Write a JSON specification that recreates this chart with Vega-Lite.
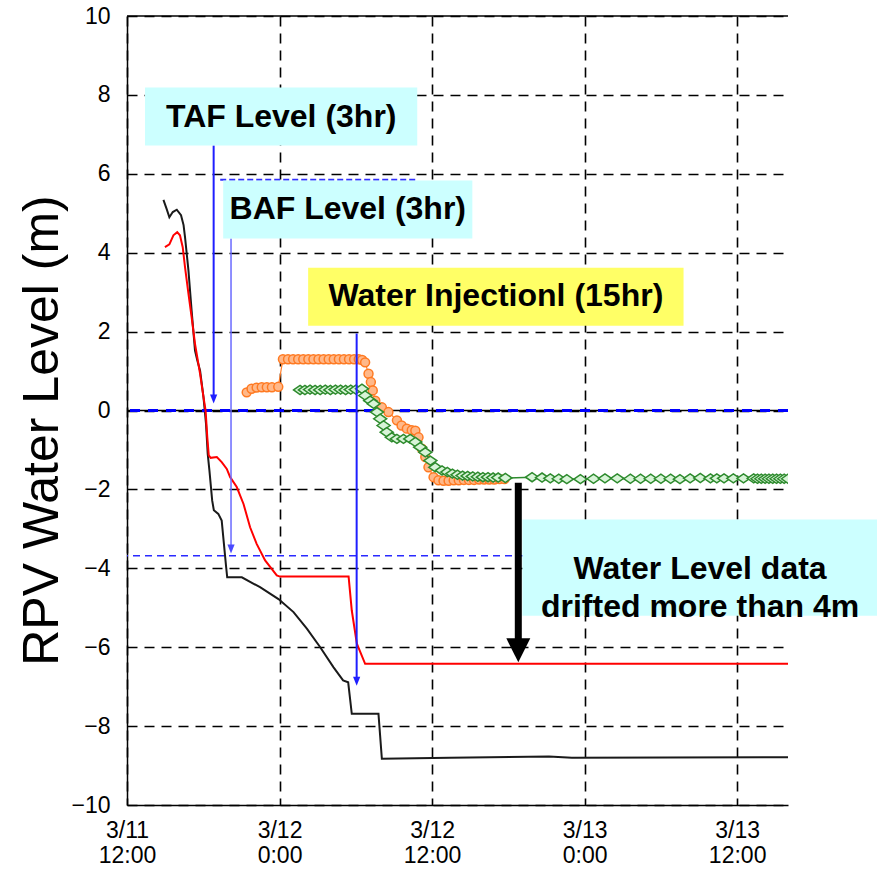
{
  "$schema": "https://vega.github.io/schema/vega-lite/v6.json",
  "width": 661,
  "height": 789,
  "autosize": {"type": "none"},
  "padding": {"left": 127, "top": 16, "right": 89, "bottom": 64},
  "background": "#ffffff",
  "config": {"view": {"stroke": null}, "font": "Liberation Sans"},
  "datasets": {
    "black": [
      {"t": "2011-03-11T14:52", "v": 5.34}, {"t": "2011-03-11T15:07", "v": 5.11}, {"t": "2011-03-11T15:20", "v": 4.9},
      {"t": "2011-03-11T15:36", "v": 5.03}, {"t": "2011-03-11T15:55", "v": 5.09}, {"t": "2011-03-11T16:15", "v": 4.95},
      {"t": "2011-03-11T16:27", "v": 4.7}, {"t": "2011-03-11T16:34", "v": 4.39}, {"t": "2011-03-11T16:50", "v": 3.55},
      {"t": "2011-03-11T17:05", "v": 2.53}, {"t": "2011-03-11T17:21", "v": 1.52}, {"t": "2011-03-11T17:32", "v": 1.27},
      {"t": "2011-03-11T17:45", "v": 1.01}, {"t": "2011-03-11T18:01", "v": 0.34}, {"t": "2011-03-11T18:13", "v": -0.34},
      {"t": "2011-03-11T18:21", "v": -1.1}, {"t": "2011-03-11T18:29", "v": -1.52}, {"t": "2011-03-11T18:42", "v": -2.28},
      {"t": "2011-03-11T18:50", "v": -2.53}, {"t": "2011-03-11T19:11", "v": -2.62}, {"t": "2011-03-11T19:27", "v": -2.79},
      {"t": "2011-03-11T19:36", "v": -3.3}, {"t": "2011-03-11T19:48", "v": -3.97}, {"t": "2011-03-11T19:53", "v": -4.23},
      {"t": "2011-03-11T21:02", "v": -4.23}, {"t": "2011-03-11T22:28", "v": -4.48}, {"t": "2011-03-11T23:55", "v": -4.78},
      {"t": "2011-03-12T01:06", "v": -5.11}, {"t": "2011-03-12T02:09", "v": -5.53}, {"t": "2011-03-12T03:12", "v": -6.0},
      {"t": "2011-03-12T04:15", "v": -6.51}, {"t": "2011-03-12T05:00", "v": -6.84}, {"t": "2011-03-12T05:24", "v": -6.89},
      {"t": "2011-03-12T05:41", "v": -7.69}, {"t": "2011-03-12T07:47", "v": -7.69}, {"t": "2011-03-12T08:03", "v": -8.83},
      {"t": "2011-03-12T13:24", "v": -8.8}, {"t": "2011-03-12T21:12", "v": -8.77}, {"t": "2011-03-12T23:00", "v": -8.8},
      {"t": "2011-03-13T16:00", "v": -8.79}
    ],
    "red": [
      {"t": "2011-03-11T14:59", "v": 4.14}, {"t": "2011-03-11T15:20", "v": 4.21}, {"t": "2011-03-11T15:39", "v": 4.44},
      {"t": "2011-03-11T15:57", "v": 4.52}, {"t": "2011-03-11T16:10", "v": 4.44}, {"t": "2011-03-11T16:23", "v": 4.14},
      {"t": "2011-03-11T16:34", "v": 3.63}, {"t": "2011-03-11T16:50", "v": 2.96}, {"t": "2011-03-11T17:05", "v": 2.37},
      {"t": "2011-03-11T17:21", "v": 1.69}, {"t": "2011-03-11T17:45", "v": 0.93}, {"t": "2011-03-11T18:01", "v": 0.34},
      {"t": "2011-03-11T18:11", "v": 0.0}, {"t": "2011-03-11T18:19", "v": -0.68}, {"t": "2011-03-11T18:26", "v": -1.14},
      {"t": "2011-03-11T18:35", "v": -1.2}, {"t": "2011-03-11T19:04", "v": -1.18}, {"t": "2011-03-11T19:27", "v": -1.31},
      {"t": "2011-03-11T19:51", "v": -1.48}, {"t": "2011-03-11T20:07", "v": -1.69}, {"t": "2011-03-11T20:38", "v": -1.94},
      {"t": "2011-03-11T21:10", "v": -2.37}, {"t": "2011-03-11T21:41", "v": -2.96}, {"t": "2011-03-11T22:12", "v": -3.38},
      {"t": "2011-03-11T22:52", "v": -3.8}, {"t": "2011-03-11T23:47", "v": -4.18}, {"t": "2011-03-12T00:02", "v": -4.21},
      {"t": "2011-03-12T05:26", "v": -4.21}, {"t": "2011-03-12T05:41", "v": -5.07}, {"t": "2011-03-12T06:05", "v": -5.91},
      {"t": "2011-03-12T06:44", "v": -6.42}, {"t": "2011-03-13T16:00", "v": -6.42}
    ],
    "orange": [
      {"t": "2011-03-11T21:25", "v": 0.46}, {"t": "2011-03-11T21:48", "v": 0.55}, {"t": "2011-03-11T22:12", "v": 0.58},
      {"t": "2011-03-11T22:36", "v": 0.59}, {"t": "2011-03-11T23:00", "v": 0.59}, {"t": "2011-03-11T23:24", "v": 0.59},
      {"t": "2011-03-11T23:54", "v": 0.6}, {"t": "2011-03-12T00:16", "v": 1.3}, {"t": "2011-03-12T00:40", "v": 1.3},
      {"t": "2011-03-12T01:04", "v": 1.3}, {"t": "2011-03-12T01:28", "v": 1.3}, {"t": "2011-03-12T01:52", "v": 1.3},
      {"t": "2011-03-12T02:16", "v": 1.3}, {"t": "2011-03-12T02:40", "v": 1.3}, {"t": "2011-03-12T03:04", "v": 1.3},
      {"t": "2011-03-12T03:28", "v": 1.3}, {"t": "2011-03-12T03:52", "v": 1.3}, {"t": "2011-03-12T04:16", "v": 1.3},
      {"t": "2011-03-12T04:40", "v": 1.3}, {"t": "2011-03-12T05:04", "v": 1.3}, {"t": "2011-03-12T05:28", "v": 1.3},
      {"t": "2011-03-12T05:52", "v": 1.3}, {"t": "2011-03-12T06:14", "v": 1.3}, {"t": "2011-03-12T06:30", "v": 1.28},
      {"t": "2011-03-12T06:44", "v": 1.22}, {"t": "2011-03-12T07:00", "v": 0.93}, {"t": "2011-03-12T07:11", "v": 0.72},
      {"t": "2011-03-12T07:20", "v": 0.51}, {"t": "2011-03-12T07:32", "v": 0.25}, {"t": "2011-03-12T08:03", "v": 0.08},
      {"t": "2011-03-12T08:34", "v": -0.04}, {"t": "2011-03-12T09:14", "v": -0.25}, {"t": "2011-03-12T09:36", "v": -0.38},
      {"t": "2011-03-12T10:01", "v": -0.46}, {"t": "2011-03-12T10:24", "v": -0.5}, {"t": "2011-03-12T10:41", "v": -0.51},
      {"t": "2011-03-12T10:56", "v": -0.68}, {"t": "2011-03-12T11:12", "v": -0.97}, {"t": "2011-03-12T11:28", "v": -1.18},
      {"t": "2011-03-12T11:43", "v": -1.44}, {"t": "2011-03-12T12:07", "v": -1.69}, {"t": "2011-03-12T12:30", "v": -1.77},
      {"t": "2011-03-12T12:54", "v": -1.78}, {"t": "2011-03-12T13:18", "v": -1.78}, {"t": "2011-03-12T13:42", "v": -1.77},
      {"t": "2011-03-12T14:06", "v": -1.77}, {"t": "2011-03-12T14:30", "v": -1.76}, {"t": "2011-03-12T14:54", "v": -1.76},
      {"t": "2011-03-12T15:18", "v": -1.76}, {"t": "2011-03-12T15:42", "v": -1.75}, {"t": "2011-03-12T16:06", "v": -1.75},
      {"t": "2011-03-12T16:30", "v": -1.75}, {"t": "2011-03-12T16:54", "v": -1.75}, {"t": "2011-03-12T17:18", "v": -1.74},
      {"t": "2011-03-12T17:42", "v": -1.74}
    ],
    "green": [
      {"t": "2011-03-12T01:37", "v": 0.52}, {"t": "2011-03-12T02:00", "v": 0.52}, {"t": "2011-03-12T02:24", "v": 0.53},
      {"t": "2011-03-12T02:48", "v": 0.52}, {"t": "2011-03-12T03:12", "v": 0.52}, {"t": "2011-03-12T03:36", "v": 0.53},
      {"t": "2011-03-12T04:00", "v": 0.52}, {"t": "2011-03-12T04:24", "v": 0.53}, {"t": "2011-03-12T04:48", "v": 0.53},
      {"t": "2011-03-12T05:12", "v": 0.52}, {"t": "2011-03-12T05:36", "v": 0.53}, {"t": "2011-03-12T06:00", "v": 0.53},
      {"t": "2011-03-12T06:29", "v": 0.55}, {"t": "2011-03-12T06:44", "v": 0.38}, {"t": "2011-03-12T07:08", "v": 0.25},
      {"t": "2011-03-12T07:24", "v": 0.17}, {"t": "2011-03-12T07:40", "v": -0.04}, {"t": "2011-03-12T07:55", "v": -0.21},
      {"t": "2011-03-12T08:11", "v": -0.38}, {"t": "2011-03-12T08:26", "v": -0.55}, {"t": "2011-03-12T08:50", "v": -0.68},
      {"t": "2011-03-12T09:14", "v": -0.72}, {"t": "2011-03-12T09:45", "v": -0.72}, {"t": "2011-03-12T10:17", "v": -0.72},
      {"t": "2011-03-12T10:41", "v": -0.8}, {"t": "2011-03-12T11:04", "v": -0.93}, {"t": "2011-03-12T11:28", "v": -1.06},
      {"t": "2011-03-12T11:52", "v": -1.27}, {"t": "2011-03-12T12:15", "v": -1.44}, {"t": "2011-03-12T12:47", "v": -1.52},
      {"t": "2011-03-12T13:12", "v": -1.56}, {"t": "2011-03-12T13:36", "v": -1.6}, {"t": "2011-03-12T14:00", "v": -1.63},
      {"t": "2011-03-12T14:24", "v": -1.65}, {"t": "2011-03-12T14:48", "v": -1.66}, {"t": "2011-03-12T15:12", "v": -1.67},
      {"t": "2011-03-12T15:36", "v": -1.68}, {"t": "2011-03-12T16:00", "v": -1.69}, {"t": "2011-03-12T16:24", "v": -1.69},
      {"t": "2011-03-12T16:48", "v": -1.7}, {"t": "2011-03-12T17:12", "v": -1.7}, {"t": "2011-03-12T17:46", "v": -1.71},
      {"t": "2011-03-12T19:52", "v": -1.69}, {"t": "2011-03-12T20:39", "v": -1.7}, {"t": "2011-03-12T21:18", "v": -1.72},
      {"t": "2011-03-12T21:58", "v": -1.73}, {"t": "2011-03-12T22:36", "v": -1.74}, {"t": "2011-03-12T23:40", "v": -1.74},
      {"t": "2011-03-13T00:42", "v": -1.73}, {"t": "2011-03-13T01:36", "v": -1.72}, {"t": "2011-03-13T02:34", "v": -1.72},
      {"t": "2011-03-13T03:36", "v": -1.73}, {"t": "2011-03-13T04:24", "v": -1.73}, {"t": "2011-03-13T05:12", "v": -1.73},
      {"t": "2011-03-13T06:00", "v": -1.73}, {"t": "2011-03-13T06:46", "v": -1.73}, {"t": "2011-03-13T07:30", "v": -1.74},
      {"t": "2011-03-13T08:18", "v": -1.72}, {"t": "2011-03-13T09:06", "v": -1.71}, {"t": "2011-03-13T09:54", "v": -1.72},
      {"t": "2011-03-13T10:24", "v": -1.72}, {"t": "2011-03-13T10:58", "v": -1.72}, {"t": "2011-03-13T11:42", "v": -1.72},
      {"t": "2011-03-13T12:30", "v": -1.72}, {"t": "2011-03-13T13:18", "v": -1.72}, {"t": "2011-03-13T13:36", "v": -1.73},
      {"t": "2011-03-13T13:54", "v": -1.73}, {"t": "2011-03-13T14:12", "v": -1.73}, {"t": "2011-03-13T14:30", "v": -1.73},
      {"t": "2011-03-13T14:48", "v": -1.73}, {"t": "2011-03-13T15:06", "v": -1.73}, {"t": "2011-03-13T15:24", "v": -1.73},
      {"t": "2011-03-13T15:42", "v": -1.73}, {"t": "2011-03-13T16:00", "v": -1.73}
    ],
    "boxes": [
      {"kind": "cyan", "t": "2011-03-11T13:25", "t2": "2011-03-12T10:50", "v": 8.19, "v2": 6.72},
      {"kind": "cyan", "t": "2011-03-11T19:34", "t2": "2011-03-12T15:10", "v": 5.83, "v2": 4.36},
      {"kind": "yellow", "t": "2011-03-12T02:15", "t2": "2011-03-13T07:47", "v": 3.62, "v2": 2.15},
      {"kind": "cyan", "t": "2011-03-12T19:06", "t2": "2011-03-13T23:04", "v": -2.76, "v2": -5.2}
    ],
    "labels": [
      {"label": "TAF Level (3hr)", "t": "2011-03-12T00:08", "v": 7.45},
      {"label": "BAF Level (3hr)", "t": "2011-03-12T05:22", "v": 5.1},
      {"label": "Water Injectionl (15hr)", "t": "2011-03-12T17:01", "v": 2.89},
      {"label": "Water Level data\ndrifted more than 4m", "t": "2011-03-13T09:05", "v": -4.03}
    ],
    "arrows": [
      {"kind": "TAF", "t": "2011-03-11T18:49", "v": 6.72, "v2": 0.29},
      {"kind": "BAF", "t": "2011-03-11T20:11", "v": 4.36, "v2": -3.51},
      {"kind": "WI", "t": "2011-03-12T06:04", "v": 1.95, "v2": -6.86}
    ],
    "drift": [
      {"t": "2011-03-12T18:47", "v": -1.83, "v2": -5.9, "vh": -6.08}
    ],
    "dashed": [
      {"t": "2011-03-11T19:20", "t2": "2011-03-12T10:42", "v": 5.85}
    ],
    "levels": [
      {"name": "top", "v": 10},
      {"name": "zero", "v": 0},
      {"name": "ref", "v": -3.68}
    ]
  },
  "layer": [
    {
      "data": {"name": "black"},
      "mark": {"type": "line", "color": "#1a1a1a", "strokeWidth": 2},
      "encoding": {
        "x": {
          "field": "t", "type": "temporal",
          "scale": {"domain": [{"year": 2011, "month": 3, "date": 11, "hours": 12}, {"year": 2011, "month": 3, "date": 13, "hours": 16}], "nice": false},
          "axis": {
            "title": null,
            "values": [
              {"year": 2011, "month": 3, "date": 11, "hours": 12},
              {"year": 2011, "month": 3, "date": 12, "hours": 0},
              {"year": 2011, "month": 3, "date": 12, "hours": 12},
              {"year": 2011, "month": 3, "date": 13, "hours": 0},
              {"year": 2011, "month": 3, "date": 13, "hours": 12}
            ],
            "labelExpr": "[timeFormat(datum.value, '%-m/%-d'), timeFormat(datum.value, '%-H:%M')]",
            "labelFontSize": 23, "labelColor": "#000", "labelPadding": 14, "labelLineHeight": 25,
            "labelBaseline": "top", "labelFlush": false, "labelOverlap": false,
            "ticks": false, "tickSize": 0,
            "domainColor": "#000", "domainWidth": 1.5,
            "grid": true, "gridColor": "#000", "gridDash": [10, 7], "gridWidth": 1.6
          }
        },
        "y": {
          "field": "v", "type": "quantitative",
          "scale": {"domain": [-10, 10], "nice": false, "zero": false},
          "axis": {
            "title": "RPV Water Level (m)",
            "titleFontSize": 50, "titleFontWeight": "normal", "titleColor": "#000",
            "titleX": -70, "titleY": 414, "titleBaseline": "alphabetic", "titleAlign": "center", "titleAngle": 270,
            "values": [-10, -8, -6, -4, -2, 0, 2, 4, 6, 8, 10],
            "format": "d",
            "labelFontSize": 23, "labelColor": "#000", "labelPadding": 17, "labelFlush": false, "labelOverlap": false,
            "ticks": false, "tickSize": 0,
            "domainColor": "#000", "domainWidth": 1.5,
            "grid": true, "gridColor": "#000", "gridDash": [10, 7], "gridWidth": 1.6
          }
        }
      }
    },
    {
      "data": {"name": "levels"},
      "transform": [{"filter": "datum.name != 'ref'"}],
      "mark": {"type": "rule", "color": "#000", "strokeWidth": 1.5},
      "encoding": {"y": {"field": "v", "type": "quantitative"}}
    },
    {
      "data": {"name": "levels"},
      "transform": [{"filter": "datum.name == 'zero'"}],
      "mark": {"type": "rule", "color": "#0000ff", "strokeWidth": 3, "strokeDash": [10, 8]},
      "encoding": {"y": {"field": "v", "type": "quantitative"}}
    },
    {
      "data": {"name": "levels"},
      "transform": [{"filter": "datum.name == 'ref'"}],
      "mark": {"type": "rule", "color": "#2a2aff", "strokeWidth": 1.5, "strokeDash": [7, 5]},
      "encoding": {"y": {"field": "v", "type": "quantitative"}}
    },
    {
      "data": {"name": "dashed"},
      "mark": {"type": "rule", "color": "#3030ff", "strokeWidth": 2, "strokeDash": [6, 3]},
      "encoding": {
        "x": {"field": "t", "type": "temporal"},
        "x2": {"field": "t2"},
        "y": {"field": "v", "type": "quantitative"}
      }
    },
    {
      "data": {"name": "red"},
      "mark": {"type": "line", "color": "#ff0000", "strokeWidth": 2},
      "encoding": {
        "x": {"field": "t", "type": "temporal"},
        "y": {"field": "v", "type": "quantitative"}
      }
    },
    {
      "data": {"name": "orange"},
      "mark": {"type": "line", "color": "#ff7f2a", "strokeWidth": 1.2},
      "encoding": {
        "x": {"field": "t", "type": "temporal"},
        "y": {"field": "v", "type": "quantitative"}
      }
    },
    {
      "data": {"name": "orange"},
      "mark": {"type": "point", "shape": "circle", "size": 80, "filled": true, "fill": "#ffb889", "stroke": "#ff7a22", "strokeWidth": 1.5, "opacity": 1},
      "encoding": {
        "x": {"field": "t", "type": "temporal"},
        "y": {"field": "v", "type": "quantitative"}
      }
    },
    {
      "data": {"name": "green"},
      "mark": {"type": "line", "color": "#2e8b2e", "strokeWidth": 1.5, "clip": true},
      "encoding": {
        "x": {"field": "t", "type": "temporal"},
        "y": {"field": "v", "type": "quantitative"}
      }
    },
    {
      "data": {"name": "green"},
      "mark": {"type": "point", "shape": "M-1,0L0,-0.7L1,0L0,0.7Z", "size": 169, "filled": true, "fill": "#d8f4d8", "stroke": "#2e8b2e", "strokeWidth": 1.5, "opacity": 1, "clip": true},
      "encoding": {
        "x": {"field": "t", "type": "temporal"},
        "y": {"field": "v", "type": "quantitative"}
      }
    },
    {
      "data": {"name": "arrows"},
      "transform": [{"filter": "datum.kind != 'BAF'"}],
      "mark": {"type": "rule", "color": "#1f1fff", "strokeWidth": 2},
      "encoding": {
        "x": {"field": "t", "type": "temporal"},
        "y": {"field": "v", "type": "quantitative"},
        "y2": {"field": "v2"}
      }
    },
    {
      "data": {"name": "arrows"},
      "transform": [{"filter": "datum.kind != 'BAF'"}],
      "mark": {"type": "point", "shape": "M-0.8,-1L0.8,-1L0,1Z", "size": 81, "filled": true, "color": "#1f1fff", "opacity": 1},
      "encoding": {
        "x": {"field": "t", "type": "temporal"},
        "y": {"field": "v2", "type": "quantitative"}
      }
    },
    {
      "data": {"name": "arrows"},
      "transform": [{"filter": "datum.kind == 'BAF'"}],
      "mark": {"type": "rule", "color": "#6a6aff", "strokeWidth": 1.5},
      "encoding": {
        "x": {"field": "t", "type": "temporal"},
        "y": {"field": "v", "type": "quantitative"},
        "y2": {"field": "v2"}
      }
    },
    {
      "data": {"name": "arrows"},
      "transform": [{"filter": "datum.kind == 'BAF'"}],
      "mark": {"type": "point", "shape": "M-0.8,-1L0.8,-1L0,1Z", "size": 81, "filled": true, "color": "#4a4aff", "opacity": 1},
      "encoding": {
        "x": {"field": "t", "type": "temporal"},
        "y": {"field": "v2", "type": "quantitative"}
      }
    },
    {
      "data": {"name": "drift"},
      "mark": {"type": "rule", "color": "#000", "strokeWidth": 7},
      "encoding": {
        "x": {"field": "t", "type": "temporal"},
        "y": {"field": "v", "type": "quantitative"},
        "y2": {"field": "v2"}
      }
    },
    {
      "data": {"name": "drift"},
      "mark": {"type": "point", "shape": "M-1,-1L1,-1L0,1Z", "size": 576, "filled": true, "color": "#000", "opacity": 1},
      "encoding": {
        "x": {"field": "t", "type": "temporal"},
        "y": {"field": "vh", "type": "quantitative"}
      }
    },
    {
      "data": {"name": "boxes"},
      "transform": [{"filter": "datum.kind == 'cyan'"}],
      "mark": {"type": "rect", "fill": "#ccffff"},
      "encoding": {
        "x": {"field": "t", "type": "temporal"},
        "x2": {"field": "t2"},
        "y": {"field": "v", "type": "quantitative"},
        "y2": {"field": "v2"}
      }
    },
    {
      "data": {"name": "boxes"},
      "transform": [{"filter": "datum.kind == 'yellow'"}],
      "mark": {"type": "rect", "fill": "#ffff66"},
      "encoding": {
        "x": {"field": "t", "type": "temporal"},
        "x2": {"field": "t2"},
        "y": {"field": "v", "type": "quantitative"},
        "y2": {"field": "v2"}
      }
    },
    {
      "data": {"name": "labels"},
      "mark": {"type": "text", "fontSize": 32, "fontWeight": "bold", "font": "Liberation Sans", "color": "#000", "align": "center", "baseline": "middle", "lineBreak": "\n", "lineHeight": 38},
      "encoding": {
        "x": {"field": "t", "type": "temporal"},
        "y": {"field": "v", "type": "quantitative"},
        "text": {"field": "label"}
      }
    }
  ]
}
